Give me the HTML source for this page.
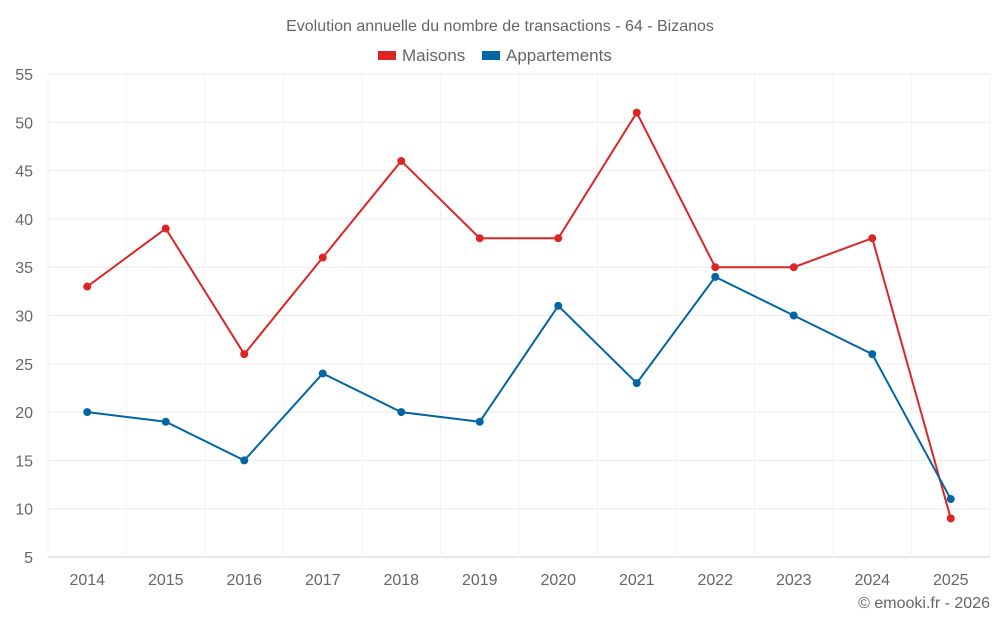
<!DOCTYPE html>
<html><head><meta charset="utf-8"><style>
html,body{margin:0;padding:0;background:#fff;}
svg text{font-family:"Liberation Sans",sans-serif;fill:#666;}
</style></head><body>
<svg id="chart" width="1000" height="625">
<text x="500" y="31" text-anchor="middle" font-size="16">Evolution annuelle du nombre de transactions - 64 - Bizanos</text>
<g>
<g><rect x="378" y="51" width="18" height="9" fill="#dc2626"></rect><text x="402" y="61" font-size="17">Maisons</text></g>
<g><rect x="482" y="51" width="18" height="9" fill="#0266a3"></rect><text x="506" y="61" font-size="17">Appartements</text></g>
</g>
<g id="grid"></g><g id="axes"></g><g id="series"></g>
<text x="990" y="608" text-anchor="end" font-size="16">© emooki.fr - 2026</text>
</svg>
<script>
const categories=["2014","2015","2016","2017","2018","2019","2020","2021","2022","2023","2024","2025"];
const maisons=[33,39,26,36,46,38,38,51,35,35,38,9];
const appartements=[20,19,15,24,20,19,31,23,34,30,26,11];
const yTicks=[5,10,15,20,25,30,35,40,45,50,55];
const NS="http://www.w3.org/2000/svg";
const L=48,R=990,T=74,B=557,yMin=5,yMax=55;
const band=(R-L)/categories.length;
const xs=i=>L+band*(i+0.5);
const ys=v=>B-(v-yMin)/(yMax-yMin)*(B-T);
function mk(tag,attrs,parent){const e=document.createElementNS(NS,tag);for(const k in attrs)e.setAttribute(k,attrs[k]);parent.appendChild(e);return e;}
const grid=document.getElementById('grid'),axes=document.getElementById('axes'),series=document.getElementById('series');
yTicks.forEach(t=>{
 const y=ys(t);
 const ln=mk('line',{x1:L,x2:R,y1:y,y2:y,stroke:t===yMin?'#ccc':'#ececec','stroke-width':1},grid);
 
 
 const tx=mk('text',{x:33,y:y+6,'text-anchor':'end','font-size':16},axes);
 tx.textContent=t;
 
 
});
for(let i=0;i<=categories.length;i++){
 const x=L+band*i;
 const ln=mk('line',{x1:x,x2:x,y1:T,y2:B,stroke:'#f3f3f3','stroke-width':1},grid);
 
 
}
categories.forEach((c,i)=>{
 const tx=mk('text',{x:xs(i),y:585,'text-anchor':'middle','font-size':16},axes);
 tx.textContent=c;
 
 
});
function draw(vals,color,name){
 const p=mk('polyline',{points:vals.map((v,i)=>xs(i)+','+ys(v)).join(' '),fill:'none',stroke:color,'stroke-width':2},series);
 
 
 vals.forEach((v,i)=>{
  const c=mk('circle',{cx:xs(i),cy:ys(v),r:4,fill:color},series);
  
  
 });
}
draw(maisons,'#dc2626','maisons');
draw(appartements,'#0266a3','appartements');
</script>
</body></html>
